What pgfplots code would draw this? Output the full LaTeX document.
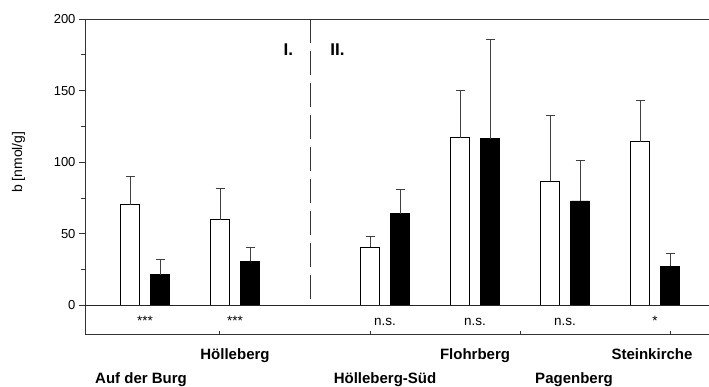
\documentclass[border=0pt]{standalone}
\usepackage{fontspec}
\setmainfont{Liberation Sans}
\usepackage{pgfplots}
\pgfplotsset{compat=1.18}
\tikzset{
  sig/.style={anchor=base, font=\fontsize{13.5}{15}\selectfont, inner sep=0pt, yshift=-20pt},
  cat/.style={anchor=base, font=\fontsize{15}{17}\selectfont\bfseries, inner sep=0pt},
}
\begin{document}
\begin{tikzpicture}
\useasboundingbox (-85pt,-52pt) rectangle (624pt,334pt);
\begin{axis}[
  at={(0,0)}, anchor=south west,
  scale only axis, width=624pt, height=315pt,
  xmin=-0.6667, xmax=6.2667, ymin=-20, ymax=200,
  axis lines*=left,
  axis line style={black!80, line width=0.7pt},
  clip=false,
  ytick={0,50,100,150,200},
  minor ytick={25,75,125,175},
  tick align=outside,
  major tick length=6pt, minor tick length=4pt,
  tick style={black!80, line width=0.7pt},
  xtick=\empty,
  extra x ticks={0.822,2.5,4.167,5.833},
  extra x tick labels={},
  extra x tick style={tick align=inside, major tick length=3pt},
  /pgf/number format/assume math mode=true,
  tick label style={font=\fontsize{13}{15}\selectfont},
  ylabel={b [nmol/g]},
  ylabel style={at={(rel axis cs:0,0.5455)}, anchor=center, yshift=66.5pt, font=\fontsize{14}{16}\selectfont},
  ybar, bar width=19pt,
  error bars/error bar style={black!75, line width=0.8pt},
]
\addplot[fill=white, draw=black, line width=0.8pt, bar shift=-15pt,
  error bars/.cd, y dir=plus, y explicit,
  error mark options={rotate=90, black!75, line width=0.8pt, mark size=4.5pt}]
  coordinates {
  (0,70.4) +- (0,19.6)
  (1,59.9) +- (0,21.7)
  (2.6667,40.8) +- (0,7.2)
  (3.6667,117) +- (0,33)
  (4.6667,86.7) +- (0,45.7)
  (5.6667,114.2) +- (0,28.7)
  };
\addplot[fill=black, draw=black, line width=0.8pt, bar shift=15pt,
  error bars/.cd, y dir=plus, y explicit,
  error mark options={rotate=90, black!75, line width=0.8pt, mark size=4.5pt}]
  coordinates {
  (0,21.4) +- (0,10.6)
  (1,30.8) +- (0,10)
  (2.6667,64.1) +- (0,17.2)
  (3.6667,116.5) +- (0,69.5)
  (4.6667,72.9) +- (0,28.5)
  (5.6667,27.3) +- (0,8.9)
  };
% frame top and zero line
\draw[black!80, line width=0.7pt] (axis cs:-0.6667,200) -- (axis cs:6.2667,200);
\draw[black!85, line width=0.8pt] (axis cs:-0.6667,0) -- (axis cs:6.2667,0);
% separator
\draw[black!80, line width=0.8pt, dash pattern=on 24pt off 8pt] (axis cs:1.8333,200) -- (axis cs:1.8333,0);
\node[font=\fontsize{17}{19}\selectfont\bfseries] at (axis cs:1.594,178.7) {I.};
\node[font=\fontsize{17}{19}\selectfont\bfseries] at (axis cs:2.139,178.7) {II.};
% significance
\node[sig] at (axis cs:0,0) {***};
\node[sig] at (axis cs:1,0) {***};
\node[sig] at (axis cs:2.6667,0) {n.s.};
\node[sig] at (axis cs:3.6667,0) {n.s.};
\node[sig] at (axis cs:4.6667,0) {n.s.};
\node[sig] at (axis cs:5.6667,0) {*};
% category labels
\node[cat, yshift=-25pt] at (axis cs:1,-20) {Hölleberg};
\node[cat, yshift=-25pt] at (axis cs:3.6667,-20) {Flohrberg};
\node[cat, yshift=-25pt] at (axis cs:5.6333,-20) {Steinkirche};
\node[cat, yshift=-49pt] at (axis cs:-0.044,-20) {Auf der Burg};
\node[cat, yshift=-49pt] at (axis cs:2.6667,-20) {Hölleberg-Süd};
\node[cat, yshift=-49pt] at (axis cs:4.7667,-20) {Pagenberg};
\end{axis}
\end{tikzpicture}
\end{document}
